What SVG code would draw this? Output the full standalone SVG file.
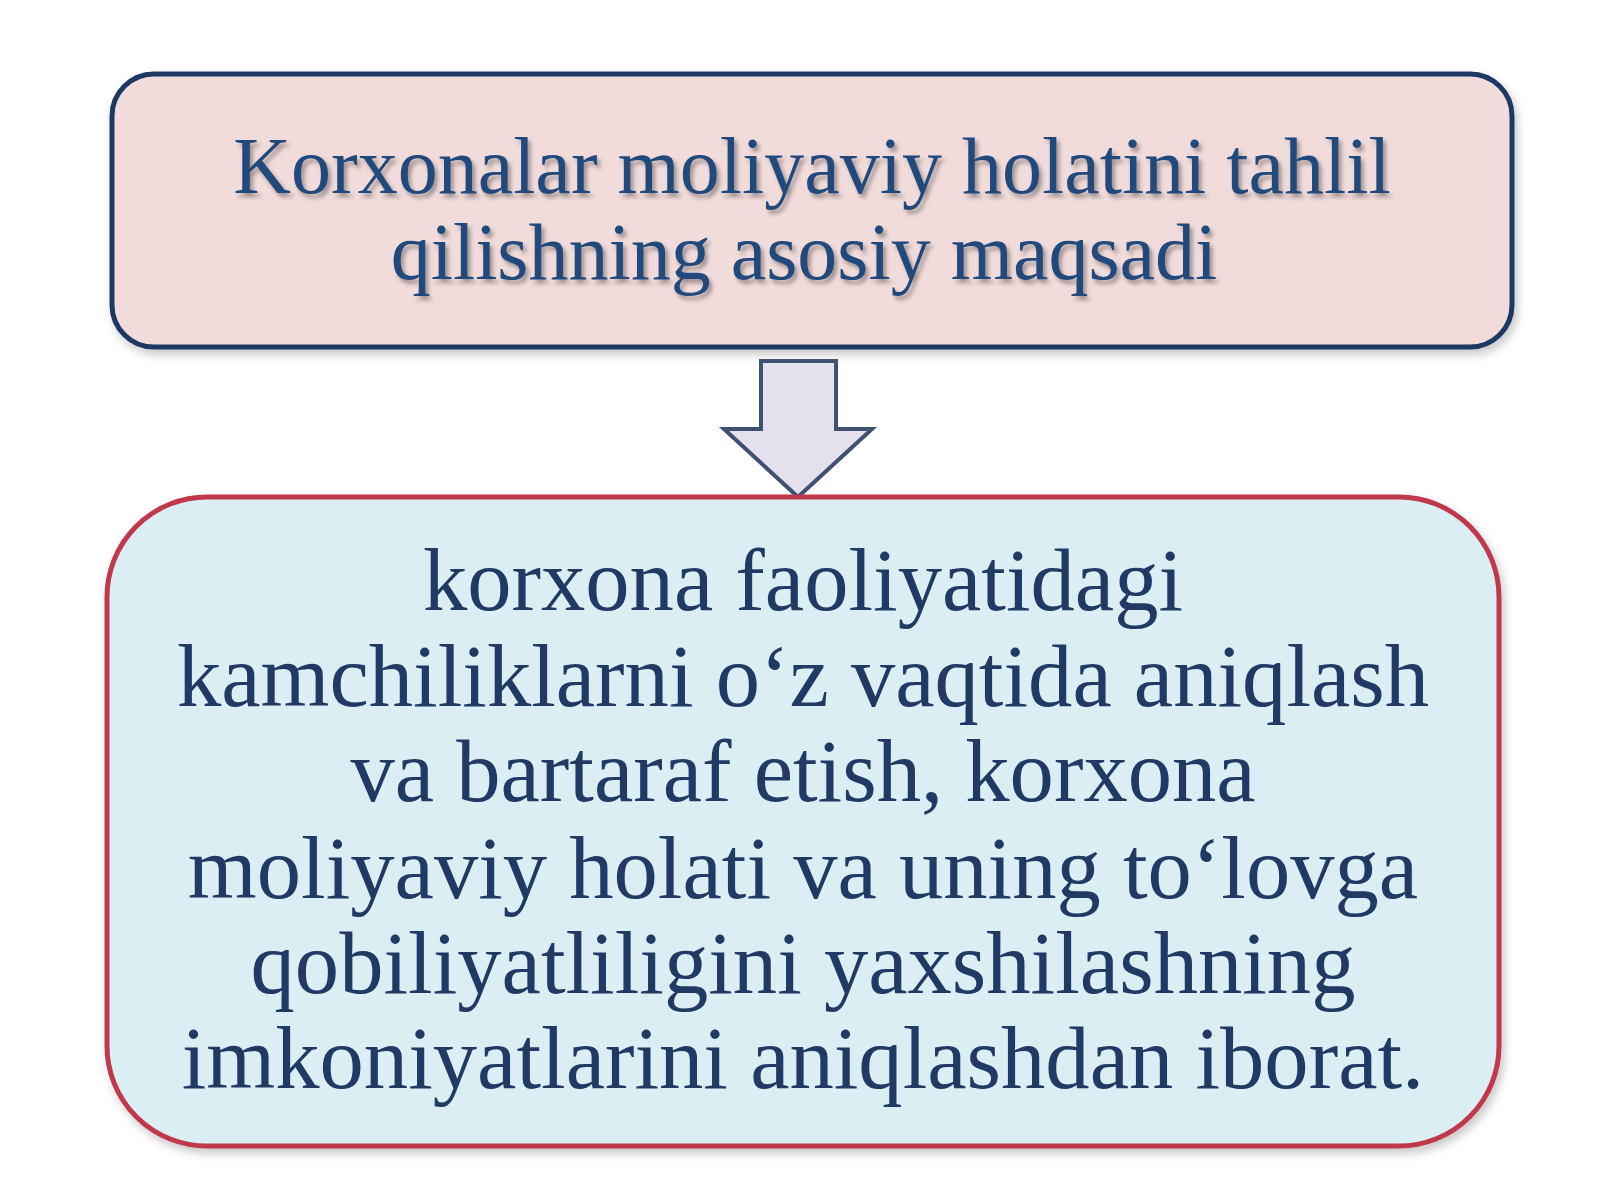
<svg xmlns="http://www.w3.org/2000/svg" width="1600" height="1200" viewBox="0 0 1600 1200">
  <style>
    .box-top { fill: #f2dcdb; stroke: #1f3864; stroke-width: 5; }
    .box-bottom { fill: #dbeef4; stroke: #c0394b; stroke-width: 5; }
    .arrow { fill: #e5e0ee; stroke: #3f5070; stroke-width: 4; stroke-linejoin: miter; }
    .t-top { font-family: "Liberation Serif", "Times New Roman", serif; font-size: 80px; fill: #24497c; text-anchor: middle; }
    .t-bottom { font-family: "Liberation Serif", "Times New Roman", serif; font-size: 88.6px; fill: #203a63; text-anchor: middle; }
  </style>
  <defs>
    <filter id="boxShadow" x="-5%" y="-10%" width="110%" height="125%">
      <feDropShadow dx="3" dy="5" stdDeviation="5" flood-color="#000000" flood-opacity="0.22"/>
    </filter>
    <filter id="textShadow" x="-5%" y="-20%" width="110%" height="150%">
      <feDropShadow dx="3" dy="4" stdDeviation="2" flood-color="#000000" flood-opacity="0.35"/>
    </filter>
  </defs>
  <rect width="1600" height="1200" fill="#ffffff"/>

  <g id="node-goal">
    <rect class="box-top" x="112" y="74" width="1400" height="273" rx="42" ry="42" filter="url(#boxShadow)"/>
    <g filter="url(#textShadow)">
      <text class="t-top" x="812" y="193">Korxonalar moliyaviy holatini tahlil</text>
      <text class="t-top" x="804" y="279">qilishning asosiy maqsadi</text>
    </g>
  </g>

  <g id="connectors">
    <polygon class="arrow" points="761,361 836,361 836,429 872,429 798,497 724,429 761,429"/>
  </g>

  <g id="node-description">
    <rect class="box-bottom" x="107" y="497" width="1392" height="649" rx="100" ry="100" filter="url(#boxShadow)"/>
    <text class="t-bottom" x="803" y="610">korxona faoliyatidagi</text>
    <text class="t-bottom" x="803" y="706">kamchiliklarni o‘z vaqtida aniqlash</text>
    <text class="t-bottom" x="803" y="801">va bartaraf etish, korxona</text>
    <text class="t-bottom" x="803" y="898">moliyaviy holati va uning to‘lovga</text>
    <text class="t-bottom" x="803" y="993">qobiliyatliligini yaxshilashning</text>
    <text class="t-bottom" x="803" y="1088">imkoniyatlarini aniqlashdan iborat.</text>
  </g>
</svg>
